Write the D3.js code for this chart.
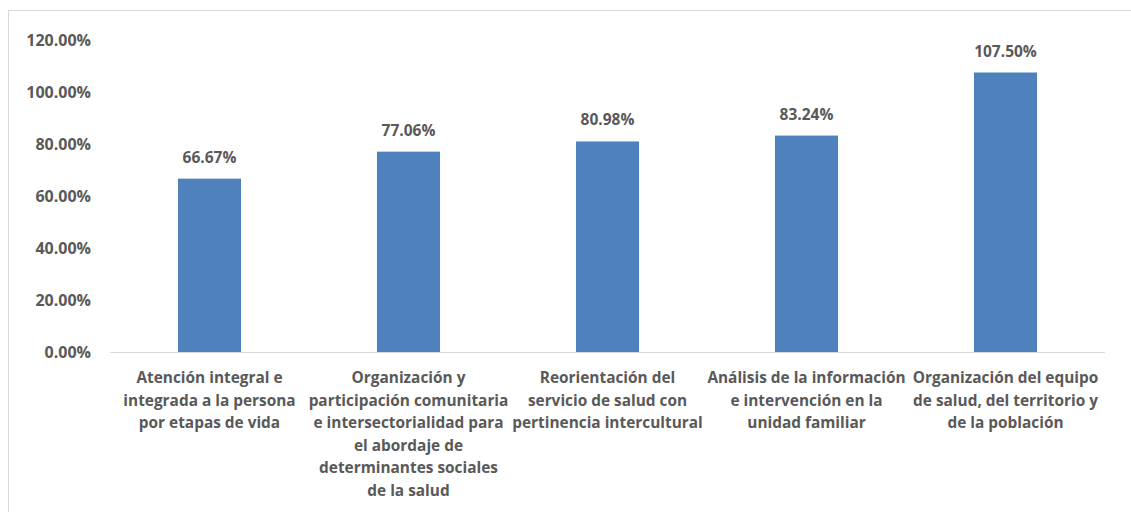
<!DOCTYPE html>
<html>
<head>
<meta charset="utf-8">
<script src="https://cdn.jsdelivr.net/npm/d3@7"></script>
<style>
  html, body { margin: 0; padding: 0; background: #ffffff; }
  svg { display: block; }
  text { font-family: "Open Sans", "Liberation Sans", sans-serif; font-weight: 700; fill: #595959; }
</style>
</head>
<body>
<svg id="chart" width="1131" height="512"></svg>
<script>
// Category labels, one entry per line of the wrapped label
const categories = [
  ["Atención integral e", "integrada a la persona", "por etapas de vida"],
  ["Organización y", "participación comunitaria", "e intersectorialidad para", "el abordaje de", "determinantes sociales", "de la salud"],
  ["Reorientación del", "servicio de salud con", "pertinencia intercultural"],
  ["Análisis de la información", "e intervención en la", "unidad familiar"],
  ["Organización del equipo", "de salud, del territorio y", "de la población"]
];
const values = [66.67, 77.06, 80.98, 83.24, 107.50];
const yTicks = [0, 20, 40, 60, 80, 100, 120];

const svg = d3.select("#chart");

// Outer chart frame
svg.append("rect")
  .attr("x", 8.5).attr("y", 10.5)
  .attr("width", 1140).attr("height", 520)
  .attr("fill", "none").attr("stroke", "#d9d9d9").attr("stroke-width", 1);

const plot = { left: 110, right: 1105, top: 40, bottom: 352 };

const x = d3.scaleBand()
  .domain(d3.range(categories.length))
  .range([plot.left, plot.right])
  .padding(0);

const y = d3.scaleLinear()
  .domain([0, 120])
  .range([plot.bottom, plot.top]);

const barW = x.bandwidth() * 0.317;
const pct = v => v.toFixed(2) + "%";

// Y axis labels
const yAxis = d3.axisLeft(y).tickValues(yTicks).tickFormat(pct).tickSize(0).tickPadding(19);
const gy = svg.append("g").attr("transform", `translate(${plot.left},0)`).call(yAxis);
gy.select(".domain").remove();
gy.selectAll("text").attr("font-size", 16).attr("font-family", null).attr("fill", null);

// Bars
svg.append("g").selectAll("rect")
  .data(values)
  .join("rect")
  .attr("x", (d, i) => x(i) + (x.bandwidth() - barW) / 2)
  .attr("y", d => y(d))
  .attr("width", barW)
  .attr("height", d => y(0) - y(d))
  .attr("fill", "#4f81bd");

// Value labels
svg.append("g").selectAll("text")
  .data(values)
  .join("text")
  .attr("x", (d, i) => x(i) + x.bandwidth() / 2)
  .attr("y", d => y(d) - 16)
  .attr("text-anchor", "middle")
  .attr("font-size", 15.5)
  .text(d => pct(d));

// Category axis baseline
svg.append("line")
  .attr("x1", plot.left).attr("x2", plot.right)
  .attr("y1", y(0) + 0.5).attr("y2", y(0) + 0.5)
  .attr("stroke", "#d9d9d9").attr("stroke-width", 1);

// Category labels
const catG = svg.append("g").selectAll("text")
  .data(categories)
  .join("text")
  .attr("text-anchor", "middle")
  .attr("font-size", 15.4);
catG.selectAll("tspan")
  .data((d, i) => d.map(line => ({ line, i })))
  .join("tspan")
  .attr("x", d => x(d.i) + x.bandwidth() / 2)
  .attr("y", (d, j) => 383 + j * 22.5)
  .text(d => d.line);
</script>
</body>
</html>
